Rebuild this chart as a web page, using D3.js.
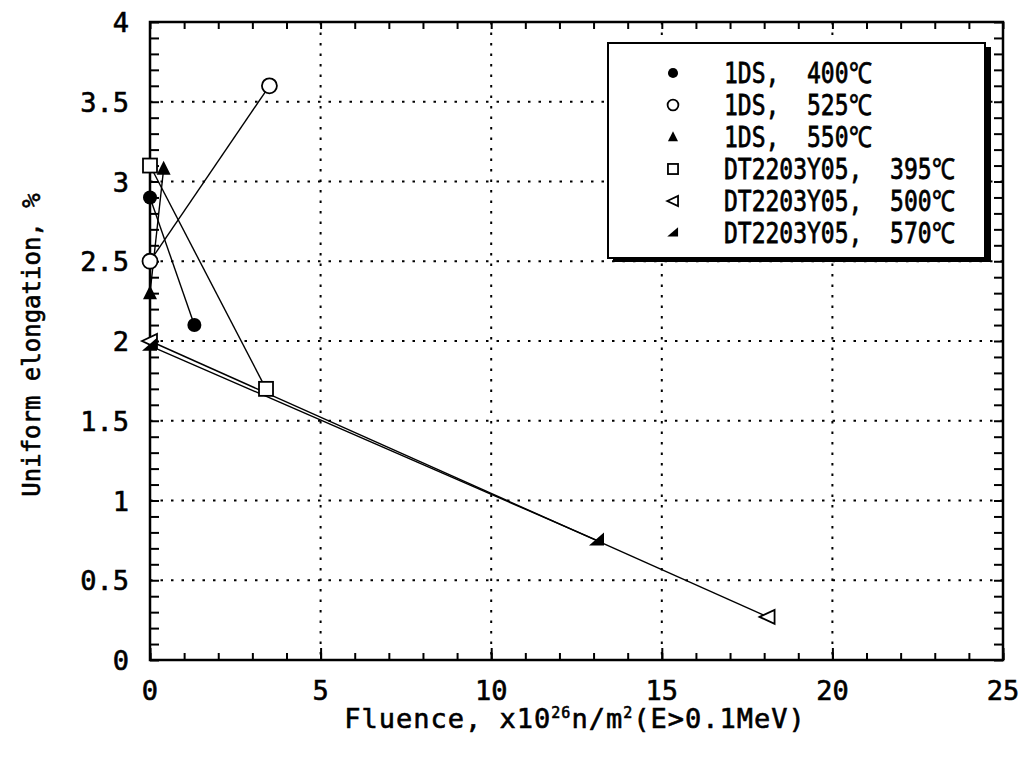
<!DOCTYPE html>
<html lang="en">
<head>
<meta charset="utf-8">
<title>Uniform elongation vs fluence</title>
<script src="https://cdn.jsdelivr.net/npm/d3@7"></script>
<style>
  body { margin: 0; background: #fff; }
  text { font-family: "DejaVu Sans Mono", monospace; fill: #000; stroke: #000; stroke-width: 0.6px; }
</style>
</head>
<body>
<script>
// series names (legend order)
var seriesNames = ["1DS,  400\u2103", "1DS,  525\u2103", "1DS,  550\u2103",
                   "DT2203Y05,  395\u2103", "DT2203Y05,  500\u2103", "DT2203Y05,  570\u2103"];
var seriesSymbols = ["dot", "ring", "triUp", "square", "triLeft", "wedge"];

// fluence (x10^26 n/m2) and uniform elongation (%) for each series
var ids400x = [0, 1.3],  ids400y = [2.9, 2.1];
var ids525x = [0, 3.5],  ids525y = [2.5, 3.6];
var ids550x = [0, 0.4],  ids550y = [2.3, 3.08];
var dt395x  = [0, 3.4],  dt395y  = [3.1, 1.7];
var dt500x  = [0, 18.1], dt500y  = [2.0, 0.27];
var dt570x  = [0, 13.1], dt570y  = [1.97, 0.75];

var xTicks = [0, 5, 10, 15, 20, 25];
var yTicks = [0, 0.5, 1, 1.5, 2, 2.5, 3, 3.5, 4];

var allX = [ids400x, ids525x, ids550x, dt395x, dt500x, dt570x];
var allY = [ids400y, ids525y, ids550y, dt395y, dt500y, dt570y];

var W = 1022, H = 763;
var m = { left: 150, right: 19, top: 22, bottom: 103 };

var svg = d3.select("body").append("svg").attr("width", W).attr("height", H);

var x = d3.scaleLinear().domain([0, 25]).range([m.left, W - m.right]);
var y = d3.scaleLinear().domain([0, 4]).range([H - m.bottom, m.top]);

// dotted grid
var grid = svg.append("g").attr("stroke", "#000").attr("stroke-width", 2)
  .attr("stroke-dasharray", "2.5,8");
grid.selectAll(".gx").data(xTicks.slice(1, -1)).enter().append("line")
  .attr("x1", function(d) { return x(d); }).attr("x2", function(d) { return x(d); })
  .attr("y1", y(4)).attr("y2", y(0));
grid.selectAll(".gy").data(yTicks.slice(1, -1)).enter().append("line")
  .attr("y1", function(d) { return y(d); }).attr("y2", function(d) { return y(d); })
  .attr("x1", x(0)).attr("x2", x(25));

// inward ticks on all four sides
var xMinor = d3.range(0, 25.01, 1), yMinor = d3.range(0, 4.001, 0.1);
function ticks(g, axis) {
  g.call(axis);
  g.select(".domain").remove();
  g.selectAll(".tick line").attr("stroke", "#000").attr("stroke-width", 2);
}
svg.append("g").attr("transform", "translate(0," + y(0) + ")")
  .call(ticks, d3.axisBottom(x).tickValues(xMinor).tickSize(-7).tickFormat(""));
svg.append("g").attr("transform", "translate(0," + y(4) + ")")
  .call(ticks, d3.axisTop(x).tickValues(xMinor).tickSize(-7).tickFormat(""));
svg.append("g").attr("transform", "translate(" + x(0) + ",0)")
  .call(ticks, d3.axisLeft(y).tickValues(yMinor).tickSize(-9).tickFormat(""));
svg.append("g").attr("transform", "translate(" + x(25) + ",0)")
  .call(ticks, d3.axisRight(y).tickValues(yMinor).tickSize(-9).tickFormat(""));
svg.append("g").attr("transform", "translate(0," + y(0) + ")")
  .call(ticks, d3.axisBottom(x).tickValues(xTicks).tickSize(-12).tickFormat(""));

// frame
svg.append("rect").attr("x", x(0)).attr("y", y(4))
  .attr("width", x(25) - x(0)).attr("height", y(0) - y(4))
  .attr("fill", "none").attr("stroke", "#000").attr("stroke-width", 2.5);

// tick labels
svg.append("g").selectAll("text").data(xTicks).enter().append("text")
  .attr("x", function(d) { return x(d); }).attr("y", y(0) + 40)
  .attr("text-anchor", "middle").attr("font-size", 27)
  .text(function(d) { return d; });
svg.append("g").selectAll("text").data(yTicks).enter().append("text")
  .attr("x", x(0) - 21).attr("y", function(d) { return y(d) + 10; })
  .attr("text-anchor", "end").attr("font-size", 27)
  .text(function(d) { return d; });

// axis titles
var xt = svg.append("text").attr("x", 575).attr("y", 728)
  .attr("text-anchor", "middle").attr("font-size", 27).attr("letter-spacing", 1);
xt.append("tspan").text("Fluence, x10");
xt.append("tspan").attr("font-size", 15).attr("dy", -10).text("26");
xt.append("tspan").attr("dy", 10).text("n/m");
xt.append("tspan").attr("font-size", 15).attr("dy", -10).text("2");
xt.append("tspan").attr("dy", 10).text("(E>0.1MeV)");

svg.append("text").attr("transform", "translate(40,345) rotate(-90)")
  .attr("text-anchor", "middle").attr("font-size", 24)
  .text("Uniform elongation, %");

// symbols
function symbol(g, type, s) {
  if (type === "dot") g.append("circle").attr("r", 7 * s).attr("fill", "#000");
  else if (type === "ring") g.append("circle").attr("r", 7.5 * s).attr("fill", "#fff").attr("stroke", "#000").attr("stroke-width", 1.8);
  else if (type === "triUp") g.append("path").attr("d", "M0," + (-8 * s) + "L" + (7 * s) + "," + (6 * s) + "L" + (-7 * s) + "," + (6 * s) + "Z").attr("fill", "#000");
  else if (type === "square") g.append("rect").attr("x", -7 * s).attr("y", -7 * s).attr("width", 14 * s).attr("height", 14 * s).attr("fill", "#fff").attr("stroke", "#000").attr("stroke-width", 1.8);
  else if (type === "triLeft") g.append("path").attr("d", "M" + (-8 * s) + ",0L" + (7 * s) + "," + (-7 * s) + "L" + (7 * s) + "," + (7 * s) + "Z").attr("fill", "#fff").attr("stroke", "#000").attr("stroke-width", 1.8);
  else if (type === "wedge") g.append("path").attr("d", "M" + (-8 * s) + "," + (5 * s) + "L" + (7 * s) + "," + (-8 * s) + "L" + (7 * s) + "," + (5 * s) + "Z").attr("fill", "#000");
}

var line = d3.line().x(function(d) { return x(d[0]); }).y(function(d) { return y(d[1]); });

allX.forEach(function(xs, i) {
  var pts = xs.map(function(v, j) { return [v, allY[i][j]]; });
  svg.append("path").datum(pts).attr("d", line)
    .attr("fill", "none").attr("stroke", "#000").attr("stroke-width", 1.4);
});
allX.forEach(function(xs, i) {
  xs.forEach(function(v, j) {
    var g = svg.append("g").attr("transform", "translate(" + x(v) + "," + y(allY[i][j]) + ")");
    symbol(g, seriesSymbols[i], 1);
  });
});

// legend with drop shadow
var lg = svg.append("g");
lg.append("rect").attr("x", 613).attr("y", 47).attr("width", 378).attr("height", 215).attr("fill", "#000");
lg.append("rect").attr("x", 608).attr("y", 43).attr("width", 377).attr("height", 215)
  .attr("fill", "#fff").attr("stroke", "#000").attr("stroke-width", 2);
seriesNames.forEach(function(name, i) {
  var cy = 73 + i * 32;
  var g = lg.append("g").attr("transform", "translate(673," + cy + ")");
  symbol(g, seriesSymbols[i], 0.72);
  lg.append("text").attr("transform", "translate(724," + (cy + 10) + ") scale(1,1.25)")
    .attr("font-size", 23).attr("xml:space", "preserve").style("white-space", "pre").text(name);
});
</script>
</body>
</html>
